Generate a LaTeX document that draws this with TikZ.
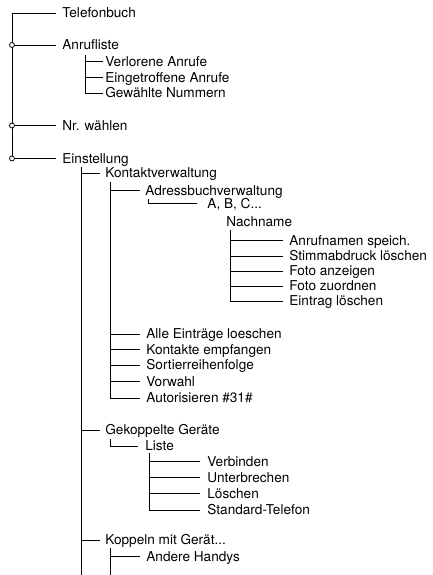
\documentclass[tikz,border=0pt]{standalone}
\usepackage{fontspec}
\setmainfont{TeX Gyre Heros}
\begin{document}
\begin{tikzpicture}[x=1pt,y=-1pt, line width=0.8pt,
  lab/.style={anchor=west, inner sep=0pt, text height=9.8pt, text depth=0pt,
              font=\fontsize{13.6}{15}\selectfont},
  knot/.style={circle, draw, fill=white, inner sep=0pt, minimum size=5pt, line width=0.8pt}]
\useasboundingbox (0,0) rectangle (433,575);
% texts
\node[lab] (tel)   at (62,13)    {Telefonbuch};
\node[lab] (anr)   at (62,45)    {Anrufliste};
\node[lab] (verl)  at (105,61.5) {Verlorene Anrufe};
\node[lab] (eing)  at (105,77.5) {Eingetroffene Anrufe};
\node[lab] (gew)   at (105,93)   {Gewählte Nummern};
\node[lab] (nrw)   at (62,125.5) {Nr. wählen};
\node[lab] (einst) at (62,158.5) {Einstellung};
\node[lab] (kont)  at (105,173)  {Kontaktverwaltung};
\node[lab] (adr)   at (145,190.5){Adressbuchverwaltung};
\node[lab] (abc)   at (207,203.5){A, B, C...};
\node[lab] (nach)  at (226,222)  {Nachname};
\node[lab] (n1)    at (289,240.7){Anrufnamen speich.};
\node[lab] (n2)    at (289,256)  {Stimmabdruck löschen};
\node[lab] (n3)    at (289,271)  {Foto anzeigen};
\node[lab] (n4)    at (289,286)  {Foto zuordnen};
\node[lab] (n5)    at (289,301)  {Eintrag löschen};
\node[lab] (alle)  at (146,334)  {Alle Einträge loeschen};
\node[lab] (kemp)  at (146,349.5){Kontakte empfangen};
\node[lab] (sort)  at (146,365)  {Sortierreihenfolge};
\node[lab] (vorw)  at (146,381.5){Vorwahl};
\node[lab] (auto)  at (146,398)  {Autorisieren \#31\#};
\node[lab] (gek)   at (105,430)  {Gekoppelte Geräte};
\node[lab] (liste) at (145,446)  {Liste};
\node[lab] (l1)    at (207,461.7){Verbinden};
\node[lab] (l2)    at (207,477.7){Unterbrechen};
\node[lab] (l3)    at (207,493.3){Löschen};
\node[lab] (l4)    at (207,510)  {Standard-Telefon};
\node[lab] (kop)   at (105,540)  {Koppeln mit Gerät...};
\node[lab] (andh)  at (146,556.7){Andere Handys};
% junction points
\coordinate (k1) at (12,45);
\coordinate (k2) at (12,125.5);
\coordinate (k3) at (12,158.5);
\coordinate (a0) at (85,55);
\coordinate (b0) at (81,167);
\coordinate (b1) at (81,575);
\coordinate (c0) at (110,182);
\coordinate (d0) at (148,199);
\coordinate (e0) at (230,230);
\coordinate (f0) at (110,439);
\coordinate (g0) at (149,453);
\coordinate (h0) at (110,548);
\coordinate (h1) at (110,575);
% main level
\draw ([xshift=-6pt]tel.west) -| (k3);
\draw (k1) -- ([xshift=-6pt]anr.west);
\draw (k2) -- ([xshift=-6pt]nrw.west);
\draw (k3) -- ([xshift=-6pt]einst.west);
% Anrufliste
\draw (a0) |- ([xshift=-2pt]gew.west);
\draw (a0 |- verl.west) -- ([xshift=-2pt]verl.west);
\draw (a0 |- eing.west) -- ([xshift=-2pt]eing.west);
% Einstellung
\draw (b0) -- (b1);
\draw (b0 |- kont.west) -- ([xshift=-5pt]kont.west);
\draw (b0 |- gek.west) -- ([xshift=-5pt]gek.west);
\draw (b0 |- kop.west) -- ([xshift=-5pt]kop.west);
% Kontaktverwaltung
\draw (c0) |- ([xshift=-6pt]auto.west);
\draw (c0 |- adr.west) -- ([xshift=-5pt]adr.west);
\foreach \n in {alle,kemp,sort,vorw} \draw (c0 |- \n.west) -- ([xshift=-6pt]\n.west);
% Adressbuch
\draw (d0) |- ([xshift=-10pt]abc.west);
% Nachname
\draw (e0) |- ([xshift=-6pt]n5.west);
\foreach \n in {n1,n2,n3,n4} \draw (e0 |- \n.west) -- ([xshift=-6pt]\n.west);
% Gekoppelte Geraete
\draw (f0) |- ([xshift=-7pt]liste.west);
\draw (g0) |- ([xshift=-7pt]l4.west);
\foreach \n in {l1,l2,l3} \draw (g0 |- \n.west) -- ([xshift=-7pt]\n.west);
% Koppeln
\draw (h0) -- (h1);
\draw (h0 |- andh.west) -- ([xshift=-6pt]andh.west);
% knots
\node[knot] at (k1) {};
\node[knot] at (k2) {};
\node[knot] at (k3) {};
\end{tikzpicture}
\end{document}
